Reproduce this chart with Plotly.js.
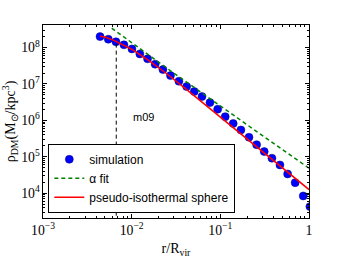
<!DOCTYPE html>
<html><head><meta charset="utf-8">
<script src="https://cdn.plot.ly/plotly-3.0.1.min.js"></script>
<style>html,body{margin:0;padding:0;background:#fff}#plot{width:344px;height:258px}</style>
</head><body><div id="plot"></div>
<script>
// simulation profile
const simR = [0.00440,0.00545,0.00665,0.00818,0.01007,0.01236,0.0151,0.0184,0.0225,0.0274,0.0341,0.0417,0.0508,0.0621,0.0764,0.0933,0.1135,0.1396,0.1706,0.2104,0.2564,0.3126,0.382,0.470,0.574,0.698,0.861,1.023];
const simRho = [2.00e8,1.70e8,1.44e8,1.19e8,9.2e7,6.71e7,4.90e7,3.50e7,2.49e7,1.70e7,1.19e7,8.49e6,6.18e6,4.51e6,3.08e6,2.03e6,1.27e6,8.22e5,5.48e5,3.45e5,2.16e5,1.39e5,9.16e4,5.98e4,3.39e4,1.95e4,8.43e3,4.29e3];
// alpha fit
const fitR = [0.00596,0.02825,0.1738,1.0];
const fitRho = [3.41e8,2.19e7,9.68e5,4.86e4];
// pseudo-isothermal sphere
const isoR = [0.0044,0.005,0.0063,0.0079,0.01,0.0158,0.0251,0.0398,0.0631,0.1,0.316,1.0];
const isoRho = [2.05e8,1.94e8,1.58e8,1.22e8,9.0e7,4.3e7,1.88e7,7.7e6,3.1e6,1.25e6,1.26e5,1.26e4];
// vertical marker
const markR = [0.0067,0.0067];
const markRho = [1e3,1.44e8];
const label = "m09";
const labelPos = [0.01377, 1.27e6];

const traces = [
  {x: simR, y: simRho, mode:'markers', name:'simulation', type:'scatter',
   marker:{color:'#0000ff', size:8, line:{color:'#000080', width:0.5}}},
  {x: fitR, y: fitRho, mode:'lines', name:'α fit', type:'scatter',
   line:{color:'#008000', width:1.5, dash:'4px,3px'}},
  {x: isoR, y: isoRho, mode:'lines', name:'pseudo-isothermal sphere', type:'scatter',
   line:{color:'#ff0000', width:1.5}},
  {x: markR, y: markRho, mode:'lines', showlegend:false, type:'scatter',
   line:{color:'#000000', width:1, dash:'4px,3px'}}
];
const axisCommon = {
  type:'log', showgrid:false, zeroline:false, showline:true, linecolor:'#000', linewidth:1,
  mirror:'allticks', ticks:'inside', ticklen:4, tickcolor:'#000', dtick:1,
  exponentformat:'power', tickfont:{family:'Liberation Serif', size:11, color:'#000'},
  minor:{ticks:'inside', ticklen:2, tickcolor:'#000', dtick:'D1', showgrid:false}
};
const layout = {
  width:344, height:258, margin:{l:43, r:35, t:25, b:40},
  paper_bgcolor:'#fff', plot_bgcolor:'#fff', showlegend:true,
  xaxis: Object.assign({}, axisCommon, {range:[-3,0],
    title:{text:'r/R<sub>vir</sub>', font:{family:'Liberation Serif', size:14, color:'#000'}, standoff:6}}),
  yaxis: Object.assign({}, axisCommon, {range:[3.32,8.62],
    title:{text:'ρ<sub>DM</sub>(M<sub>⊙</sub>/kpc<sup>3</sup>)', font:{family:'Liberation Serif', size:14, color:'#000'}, standoff:4}}),
  legend:{x:0.02, y:0.027, xanchor:'left', yanchor:'bottom', bgcolor:'#fff', bordercolor:'#000', borderwidth:1,
    font:{family:'Liberation Sans', size:12, color:'#000'}},
  annotations:[{x:Math.log10(labelPos[0]), y:Math.log10(labelPos[1]), xref:'x', yref:'y', text:label, showarrow:false,
    font:{family:'Liberation Sans', size:11, color:'#000'}}]
};
Plotly.newPlot('plot', traces, layout, {staticPlot:true, displayModeBar:false});
</script></body></html>
